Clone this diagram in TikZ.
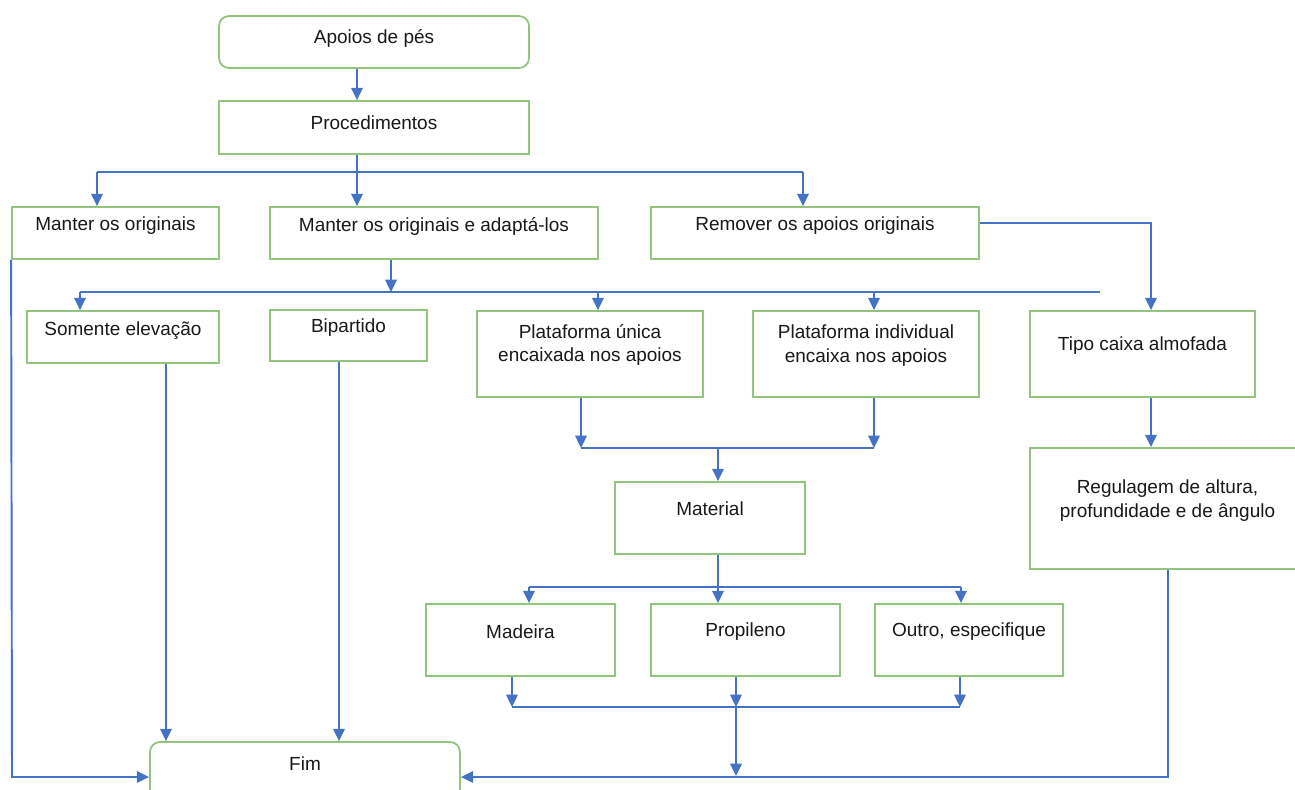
\documentclass[tikz,border=0pt]{standalone}
\usepackage{fontspec}
\setmainfont{Liberation Sans}
\usetikzlibrary{arrows.meta}
\definecolor{boxgreen}{HTML}{93C47D}
\definecolor{linkblue}{HTML}{4472C4}
\newcommand\pxl{0.02cm}
\tikzset{
  box/.style={draw=boxgreen, line width=1pt, fill=white, inner sep=0pt},
  rbox/.style={box, rounded corners=0.2cm},
  txt/.style={align=center, font=\fontsize{10.8}{13.6}\selectfont, text=black!90, inner sep=0pt},
  link/.style={draw=linkblue, line width=1.1pt},
  arr/.style={link, -{Triangle[length=7pt,width=6.5pt]}},
}
\begin{document}
\begin{tikzpicture}[x=0.02cm, y=-0.02cm]
\useasboundingbox (0,0) rectangle (1295,789);
\clip (0,0) rectangle (1295,789);

% boxes
\node[rbox, minimum width=310*\pxl, minimum height=52*\pxl,
  label={[txt,yshift=4*\pxl]center:Apoios de pés}] (apoios) at (374,42) {};
\node[box, minimum width=310*\pxl, minimum height=53*\pxl,
  label={[txt,yshift=4.5*\pxl]center:Procedimentos}] (proc) at (374,127.5) {};

\node[box, minimum width=207*\pxl, minimum height=52*\pxl,
  label={[txt,yshift=7*\pxl]center:Manter os originais}] (man) at (115.5,233) {};
\node[box, minimum width=328*\pxl, minimum height=52*\pxl,
  label={[txt,yshift=7*\pxl]center:Manter os originais e adaptá-los}] (mana) at (434,233) {};
\node[box, minimum width=328*\pxl, minimum height=52*\pxl,
  label={[txt,yshift=7*\pxl]center:Remover os apoios originais}] (rem) at (815,233) {};

\node[box, minimum width=192*\pxl, minimum height=52*\pxl,
  label={[txt,yshift=6*\pxl]center:Somente elevação}] (som) at (123,337) {};
\node[box, minimum width=157*\pxl, minimum height=51*\pxl,
  label={[txt,yshift=7.5*\pxl]center:Bipartido}] (bip) at (348.5,335.5) {};
\node[box, minimum width=226*\pxl, minimum height=86*\pxl,
  label={[txt,yshift=9*\pxl]center:{Plataforma única\\encaixada nos apoios}}] (pu) at (590,354) {};
\node[box, minimum width=226*\pxl, minimum height=86*\pxl,
  label={[txt,yshift=8*\pxl]center:{Plataforma individual\\encaixa nos apoios}}] (pi) at (866,354) {};
\node[box, minimum width=225*\pxl, minimum height=86*\pxl,
  label={[txt,yshift=8*\pxl]center:Tipo caixa almofada}] (tipo) at (1142.5,354) {};

\node[box, minimum width=190*\pxl, minimum height=72*\pxl,
  label={[txt,yshift=9*\pxl]center:Material}] (mat) at (710,518) {};
\node[box, minimum width=267*\pxl, minimum height=121*\pxl,
  label={[txt,yshift=7.5*\pxl,xshift=4*\pxl]center:{Regulagem de altura,\\profundidade e de ângulo}}] (reg) at (1163.5,508.5) {};

\node[box, minimum width=189*\pxl, minimum height=72*\pxl,
  label={[txt,yshift=8*\pxl]center:Madeira}] (mad) at (520.5,640) {};
\node[box, minimum width=189*\pxl, minimum height=72*\pxl,
  label={[txt,yshift=8*\pxl]center:Propileno}] (prop) at (745.5,640) {};
\node[box, minimum width=188*\pxl, minimum height=72*\pxl,
  label={[txt,yshift=8*\pxl]center:{Outro, especifique}}] (out) at (969,640) {};

\node[rbox, minimum width=310*\pxl, minimum height=100*\pxl,
  label={[txt,yshift=28*\pxl]center:Fim}] (fim) at (305,792) {};

% branch points
\coordinate (p1) at (357,172);
\coordinate (p1l) at (97,172);
\coordinate (p1r) at (803,172);
\coordinate (r1) at (1151,223);
\coordinate (q0) at (391,292);
\coordinate (ql) at (80,292);
\coordinate (qr) at (1100,292);
\coordinate (qa) at (598,292);
\coordinate (qb) at (874,292);
\coordinate (m1) at (581,448);
\coordinate (m2) at (874,448);
\coordinate (m0) at (718,448);
\coordinate (s0) at (718,587);
\coordinate (sl) at (529,587);
\coordinate (sr) at (961,587);
\coordinate (t1) at (512,707);
\coordinate (t0) at (736,707);
\coordinate (t2) at (960,707);
\coordinate (u0) at (736,776);
\coordinate (v1) at (1168,777);
\coordinate (w1) at (12,777);
\coordinate (x1) at (166,0);
\coordinate (x2) at (339,0);

% top part
\draw[arr] (apoios.south -| p1) -- (proc.north -| p1);
\draw[arr] (proc.south -| p1) -- (mana.north -| p1);
\draw[link] (p1l) -- (p1r);
\draw[arr] (p1l) -- (man.north -| p1l);
\draw[arr] (p1r) -- (rem.north -| p1r);
\draw[arr] (rem.east |- r1) -- (r1) -- (tipo.north -| r1);

% adapted supports
\draw[arr] (mana.south -| q0) -- (q0);
\draw[link] (ql) -- (qr);
\draw[arr] (ql) -- (som.north -| ql);
\draw[arr] (qa) -- (pu.north -| qa);
\draw[arr] (qb) -- (pi.north -| qb);

% platforms to material
\draw[arr] (pu.south -| m1) -- (m1);
\draw[arr] (pi.south -| m2) -- (m2);
\draw[link] (m1) -- (m2);
\draw[arr] (m0) -- (mat.north -| m0);

% material choices
\draw[arr] (mat.south -| s0) -- (prop.north -| s0);
\draw[link] (sl) -- (sr);
\draw[arr] (sl) -- (mad.north -| sl);
\draw[arr] (sr) -- (out.north -| sr);

\draw[arr] (mad.south -| t1) -- (t1);
\draw[arr] (prop.south -| t0) -- (t0);
\draw[arr] (out.south -| t2) -- (t2);
\draw[link] (t1) -- (t2);
\draw[arr] (t0) -- (u0);

% paths to the end
\draw[arr] (tipo.south -| r1) -- (reg.north -| r1);
\draw[arr] (reg.south -| v1) -- (v1) -- (fim.east |- v1);
\draw[arr] (man.south west) -- (w1) -- (fim.west |- w1);
\draw[arr] (som.south -| x1) -- (fim.north -| x1);
\draw[arr] (bip.south -| x2) -- (fim.north -| x2);
\end{tikzpicture}
\end{document}
